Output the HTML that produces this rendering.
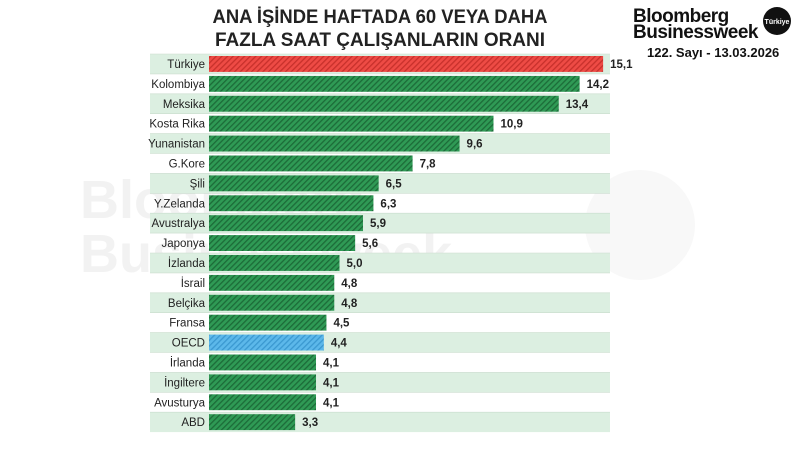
<!DOCTYPE html>
<html><head><meta charset="utf-8"><style>
html,body{margin:0;padding:0;background:#fff;}
body{width:800px;height:450px;position:relative;overflow:hidden;font-family:"Liberation Sans",sans-serif;}
</style></head><body>
<svg width="800" height="450" xmlns="http://www.w3.org/2000/svg" font-family="Liberation Sans, sans-serif">
<defs>
<pattern id="hg" width="4" height="4" patternUnits="userSpaceOnUse" patternTransform="rotate(45)">
<rect width="4" height="4" fill="#2f9a55"/><rect width="1.3" height="4" fill="#1c6b38"/></pattern>
<pattern id="hr" width="4" height="4" patternUnits="userSpaceOnUse" patternTransform="rotate(45)">
<rect width="4" height="4" fill="#ee4b45"/><rect width="1.3" height="4" fill="#c7302b"/></pattern>
<pattern id="hb" width="4" height="4" patternUnits="userSpaceOnUse" patternTransform="rotate(45)">
<rect width="4" height="4" fill="#5cb8ea"/><rect width="1.3" height="4" fill="#3a98d0"/></pattern>
</defs>
<g opacity="0.1" fill="#888" font-weight="bold" font-size="54">
<text x="80" y="218">Bloomberg</text><text x="80" y="272">Businessweek</text>
<circle cx="640" cy="225" r="55" fill="#bbb"/>
</g>
<text x="380" y="23" text-anchor="middle" font-size="19" font-weight="bold" fill="#222" textLength="335" lengthAdjust="spacingAndGlyphs">ANA İŞİNDE HAFTADA 60 VEYA DAHA</text>
<text x="380" y="46" text-anchor="middle" font-size="19" font-weight="bold" fill="#222" textLength="330" lengthAdjust="spacingAndGlyphs">FAZLA SAAT ÇALIŞANLARIN ORANI</text>
<text x="633" y="22" font-size="19" font-weight="bold" fill="#111" letter-spacing="-0.5">Bloomberg</text>
<text x="633" y="38" font-size="19" font-weight="bold" fill="#111" letter-spacing="-0.5">Businessweek</text>
<circle cx="777" cy="21" r="14" fill="#111"/>
<text x="777" y="24" text-anchor="middle" font-size="7" font-weight="bold" fill="#fff">Türkiye</text>
<text x="647" y="57" font-size="13" font-weight="bold" fill="#111">122. Sayı - 13.03.2026</text>
<g id="rows"></g>
</svg>
<script>
const d=[["Türkiye",15.1],["Kolombiya",14.2],["Meksika",13.4],["Kosta Rika",10.9],["Yunanistan",9.6],["G.Kore",7.8],["Şili",6.5],["Y.Zelanda",6.3],["Avustralya",5.9],["Japonya",5.6],["İzlanda",5.0],["İsrail",4.8],["Belçika",4.8],["Fransa",4.5],["OECD",4.4],["İrlanda",4.1],["İngiltere",4.1],["Avusturya",4.1],["ABD",3.3]];
let s="";const h=19.9;
d.forEach((r,i)=>{const y=54+i*h;
if(i%2==0)s+=`<rect x="150" y="${y}" width="460" height="${h}" fill="#dcefe1"/>`;
s+=`<line x1="150" x2="610" y1="${y}" y2="${y}" stroke="#c9dccd" stroke-width="0.6"/>`;
const w=r[1]*26.1;const f=i==0?"url(#hr)":(r[0]=="OECD"?"url(#hb)":"url(#hg)");
s+=`<rect x="209" y="${y+2}" width="${w}" height="${h-4}" fill="${f}"/>`;
s+=`<text x="205" y="${y+14}" text-anchor="end" font-size="11.5" fill="#222">${r[0]}</text>`;
s+=`<text x="${209+w+7}" y="${y+14}" font-size="11.5" font-weight="bold" fill="#222">${r[1].toFixed(1).replace('.',',')}</text>`;
});
document.getElementById("rows").innerHTML=s;
</script>
</body></html>
